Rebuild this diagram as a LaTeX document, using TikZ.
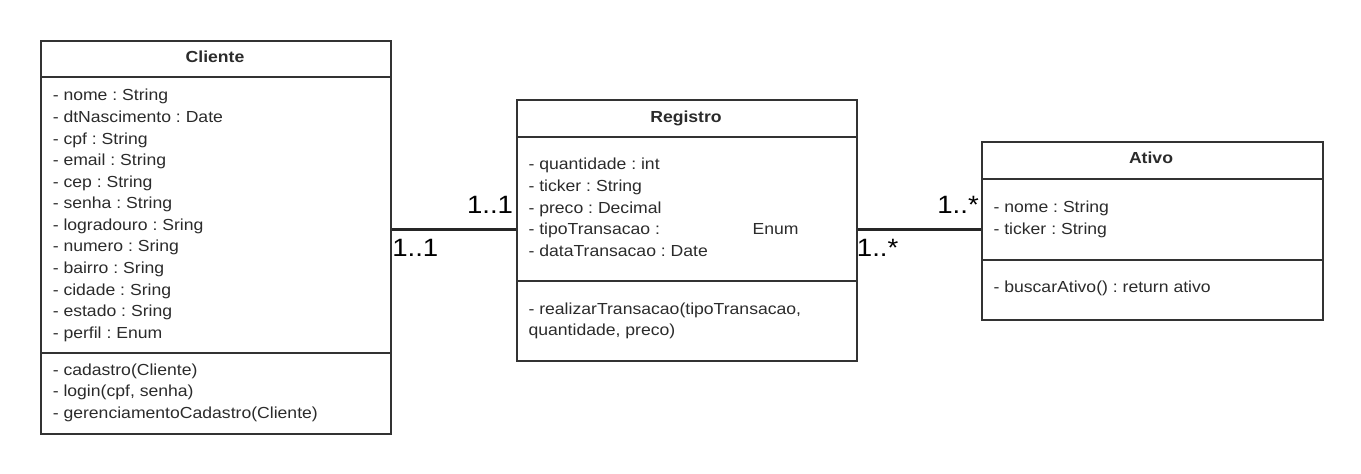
\documentclass[tikz,border=0pt]{standalone}
\usepackage{fontspec}
\setmainfont[FakeStretch=1.1]{Liberation Sans}
\frenchspacing
\definecolor{boxc}{HTML}{333333}
\definecolor{txtc}{HTML}{2B2B2B}
\begin{document}
\begin{tikzpicture}[x=0.75pt,y=-0.75pt,
  box/.style={draw=boxc, line width=1.5pt, inner sep=0, anchor=north west},
  sep/.style={draw=boxc, line width=1.5pt},
  txt/.style={anchor=base west, inner sep=0, font=\fontsize{12}{14}\selectfont, text=txtc},
  ttl/.style={anchor=base, inner sep=0, font=\fontsize{12}{14}\selectfont\bfseries, text=txtc},
  mult/.style={inner sep=0, font=\fontsize{18.8}{20}\selectfont, text=black},
  link/.style={draw=black!85, line width=2.25pt}]
\useasboundingbox (0,0) rectangle (1361,474);
% boxes
\node[box, minimum width=262.5pt, minimum height=294.75pt] (cli) at (40,40) {};
\node[box, minimum width=255pt, minimum height=195.75pt] (reg) at (516,99.3) {};
\node[box, minimum width=255.5pt, minimum height=133.5pt] (ati) at (981,141) {};
% separators
\draw[sep] (cli.west |- 0,77) -- (cli.east |- 0,77);
\draw[sep] (cli.west |- 0,353) -- (cli.east |- 0,353);
\draw[sep] (reg.west |- 0,136.7) -- (reg.east |- 0,136.7);
\draw[sep] (reg.west |- 0,281) -- (reg.east |- 0,281);
\draw[sep] (ati.west |- 0,179) -- (ati.east |- 0,179);
\draw[sep] (ati.west |- 0,260) -- (ati.east |- 0,260);
% titles
\node[ttl] (tcli) at (215,62.3) {Cliente};
\node[ttl] (treg) at (686,122.3) {Registro};
\node[ttl] (tati) at (1151,163.3) {Ativo};
% Cliente attributes
\foreach \t [count=\i from 0] in {- nome : String, - dtNascimento : Date, - cpf : String, - email : String, - cep : String, - senha : String, - logradouro : Sring, - numero : Sring, - bairro : Sring, - cidade : Sring, - estado : Sring, - perfil : Enum}
  \node[txt] (ca\i) at (52.5,101+21.57*\i) {\t};
% Cliente methods
\node[txt] (cm0) at (52.5,375) {- cadastro(Cliente)};
\node[txt] (cm1) at (52.5,396.6) {- login(cpf, senha)};
\node[txt] (cm2) at (52.5,418.2) {- gerenciamentoCadastro(Cliente)};
% Registro attributes
\node[txt] (ra0) at (528.3,170) {- quantidade : int};
\node[txt] (ra1) at (528.3,191.6) {- ticker : String};
\node[txt] (ra2) at (528.3,213.2) {- preco : Decimal};
\node[txt] (ra3) at (528.3,234.8) {- tipoTransacao :};
\node[txt] (ra3b) at (752.3,234.8) {Enum};
\node[txt] (ra4) at (528.3,256.4) {- dataTransacao : Date};
% Registro methods
\node[txt] (rm0) at (528.3,314) {- realizarTransacao(tipoTransacao,};
\node[txt] (rm1) at (528.3,335.5) {quantidade, preco)};
% Ativo
\node[txt] (aa0) at (993.3,212.7) {- nome : String};
\node[txt] (aa1) at (993.3,234.2) {- ticker : String};
\node[txt] (am0) at (993.3,292.7) {- buscarAtivo() : return ativo};
% connectors
\draw[link] (cli.east |- 0,229.5) -- (reg.west |- 0,229.5);
\draw[link] (reg.east |- 0,230) -- (ati.west |- 0,230);
% multiplicities
\node[mult, anchor=base east] (m1) at (513.3,214) {1..1};
\node[mult, anchor=base west] (m2) at (392,256.7) {1..1};
\node[mult, anchor=base west] (m3) at (856.7,256.5) {1..*};
\node[mult, anchor=base east] (m4) at (979,214) {1..*};
\end{tikzpicture}
\end{document}
